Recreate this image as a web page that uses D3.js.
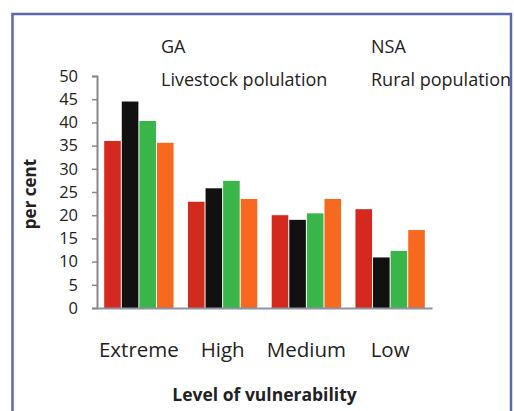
<!DOCTYPE html>
<html>
<head>
<meta charset="utf-8">
<script src="https://cdn.jsdelivr.net/npm/d3@7"></script>
<style>
  body { margin: 0; background: #fff; }
  text { font-family: "Open Sans", "Noto Sans", sans-serif; fill: #222; }
</style>
</head>
<body>
<div id="chart"></div>
<script>
const levels = ["Extreme", "High", "Medium", "Low"];
const seriesNames = ["GA", "Livestock polulation", "NSA", "Rural population"];
const gaValues = [36, 22.9, 20, 21.3];
const livestockValues = [44.5, 25.8, 19, 10.9];
const nsaValues = [40.3, 27.4, 20.4, 12.3];
const ruralValues = [35.6, 23.5, 23.5, 16.8];
const yTicks = [0, 5, 10, 15, 20, 25, 30, 35, 40, 45, 50];
const colors = ["#d42a1e", "#111111", "#39b54a", "#f7691f"];

const W = 514, H = 411;
const margin = { top: 76, left: 97, right: 82, bottom: 103 };
const width = W - margin.left - margin.right,
      height = H - margin.top - margin.bottom;

const svg = d3.select("#chart").append("svg")
  .attr("width", W)
  .attr("height", H);

svg.append("clipPath").attr("id", "frameClip")
  .append("rect").attr("x", 0).attr("y", 0).attr("width", 510).attr("height", H);

// outer frame
svg.append("rect")
  .attr("x", 12.5).attr("y", 14)
  .attr("width", 498.5).attr("height", 420)
  .attr("fill", "none")
  .attr("stroke", "#5b68ae")
  .attr("stroke-width", 2.5);

const g = svg.append("g").attr("transform", `translate(${margin.left},${margin.top})`);

const rows = levels.map((lv, i) => ({
  level: lv,
  values: [gaValues[i], livestockValues[i], nsaValues[i], ruralValues[i]]
}));

const x0 = d3.scaleBand().domain(levels).range([0, width]).paddingInner(0.16).paddingOuter(0.08);
const x1 = d3.scaleBand().domain(d3.range(4)).range([0, x0.bandwidth()]);
const y = d3.scaleLinear().domain([0, 50]).range([height, 0]);

// bars
g.selectAll(".grp").data(rows).join("g")
  .attr("class", "grp")
  .attr("transform", d => `translate(${x0(d.level)},0)`)
  .selectAll("rect").data(d => d.values).join("rect")
  .attr("x", (d, i) => x1(i) + 0.5)
  .attr("width", x1.bandwidth() - 1)
  .attr("y", d => y(d))
  .attr("height", d => height - y(d))
  .attr("fill", (d, i) => colors[i]);

// y axis
const yAxis = g.append("g")
  .call(d3.axisLeft(y).tickValues(yTicks).tickSize(5).tickPadding(14));
yAxis.select(".domain").attr("stroke", "#888").attr("stroke-width", 2);
yAxis.selectAll(".tick line").attr("stroke", "#888").attr("stroke-width", 1.5);
yAxis.selectAll("text").style("font-size", "16.5px").attr("fill", "#222");

// x axis
const xAxis = g.append("g")
  .attr("transform", `translate(0,${height})`)
  .call(d3.axisBottom(x0).tickSize(0).tickPadding(34).tickSizeOuter(0));
xAxis.select(".domain").attr("stroke", "#8a94a6").attr("stroke-width", 2);
xAxis.selectAll("text").style("font-size", "20.5px").attr("fill", "#222");

// axis titles
svg.append("text")
  .attr("x", margin.left + width / 2)
  .attr("y", 401)
  .attr("text-anchor", "middle")
  .style("font-size", "17.5px")
  .style("font-weight", "bold")
  .text("Level of vulnerability");

svg.append("text")
  .attr("transform", "translate(36,194) rotate(-90)")
  .attr("text-anchor", "middle")
  .style("font-size", "17px")
  .style("font-weight", "bold")
  .text("per cent");

// legend labels
const legendPos = [[161, 53], [161, 86], [371, 53], [371, 86]];
svg.append("g").attr("clip-path", "url(#frameClip)")
  .selectAll(".leg").data(seriesNames).join("text")
  .attr("class", "leg")
  .attr("x", (d, i) => legendPos[i][0])
  .attr("y", (d, i) => legendPos[i][1])
  .style("font-size", "18px")
  .text(d => d);
</script>
</body>
</html>
